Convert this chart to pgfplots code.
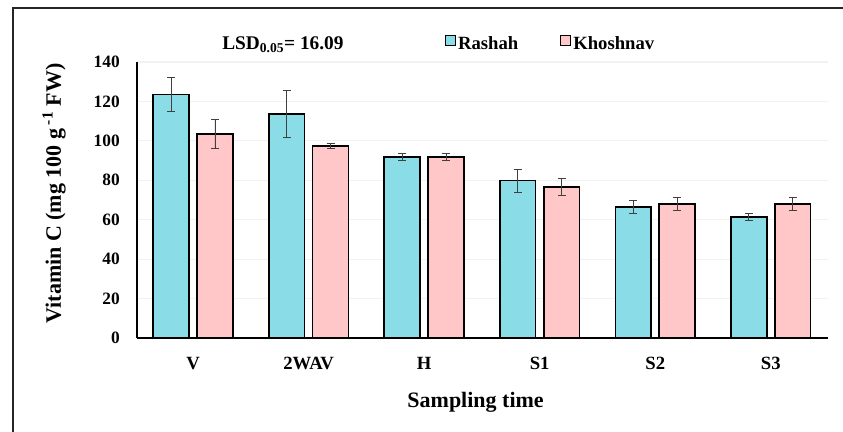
\documentclass[border=0pt]{standalone}
\usepackage{pgfplots}
\pgfplotsset{compat=1.18}
\usepackage{fontspec}
\setmainfont{Liberation Serif}
\definecolor{rcyan}{RGB}{138,220,230}
\definecolor{kpink}{RGB}{255,199,199}
\definecolor{gridc}{RGB}{242,242,242}
\begin{document}
\begin{tikzpicture}
\useasboundingbox (0,0) rectangle (632.25pt,324pt);
\draw[line width=1.5pt, black!85] (9.75pt,0) -- (9.75pt,318pt) -- (632.25pt,318pt);
\begin{axis}[
  at={(102.75pt,70.5pt)}, anchor=south west,
  scale only axis, width=518.25pt, height=207pt,
  xmin=-0.485, xmax=5.495, ymin=0, ymax=140,
  clip=false,
  ytick={0,20,...,140},
  xtick={0,1,2,3,4,5},
  xticklabels={V,2WAV,H,S1,S2,S3},
  major tick length=0pt,
  axis x line*=bottom, axis y line*=left,
  x axis line style={line width=1.4pt, -},
  y axis line style={line width=1.4pt, -},
  ymajorgrids, major grid style={gridc, line width=0.8pt},
  font=\bfseries,
  tick label style={font=\fontsize{13}{15}\selectfont\bfseries},
  xticklabel style={font=\fontsize{14}{16}\selectfont\bfseries},
  /pgf/number format/assume math mode=true,
  yticklabel style={inner sep=0pt, anchor=east, xshift=-12.75pt},
  xticklabel style={inner sep=0pt, anchor=north, yshift=-14pt},
  xlabel={Sampling time},
  ylabel={Vitamin C (mg 100 g\,\textsuperscript{-1} FW)},
  label style={font=\fontsize{16.5}{19}\selectfont\bfseries},
  x label style={at={(axis description cs:0.49,-0.232)}, anchor=center},
  y label style={at={(axis description cs:-0.12,0.524)}, anchor=center, rotate=0},
  ybar, bar width=0.31,
  legend columns=2,
  legend style={at={(axis description cs:0.4457,1.066)}, anchor=base west, draw=none, fill=none,
    inner sep=0pt, font=\fontsize{14}{16}\selectfont\bfseries,
    /tikz/every even column/.append style={column sep=30pt},
    nodes={inner sep=1.5pt}},
  legend image code/.code={\draw[#1, line width=0.7pt, draw=black] (0pt,-1.5pt) rectangle (7.5pt,6pt);},
  error bars/y dir=both, error bars/y explicit,
  error bars/error bar style={black!75, line width=0.6pt},
  error bars/error mark options={rotate=90, mark size=3pt, black!75, line width=0.6pt},
]
\addplot[fill=rcyan, draw=black, line width=1.2pt, bar shift=-0.19] coordinates {
  (0,123.5) +- (0,8.5)
  (1,113.5) +- (0,12)
  (2,91.8) +- (0,1.6)
  (3,79.8) +- (0,5.8)
  (4,66.5) +- (0,3.4)
  (5,61.4) +- (0,1.7)
};
\addplot[fill=kpink, draw=black, line width=1.2pt, bar shift=0.19] coordinates {
  (0,103.5) +- (0,7.2)
  (1,97.5) +- (0,1.2)
  (2,91.8) +- (0,1.6)
  (3,76.6) +- (0,4.3)
  (4,68.0) +- (0,3.4)
  (5,68.0) +- (0,3.4)
};
\legend{Rashah,Khoshnav}
\node[anchor=base west, inner sep=0pt, font=\fontsize{14.5}{16}\selectfont\bfseries] at (axis description cs:0.123,1.0435) {LSD\textsubscript{0.05}= 16.09};
\end{axis}
\end{tikzpicture}
\end{document}
